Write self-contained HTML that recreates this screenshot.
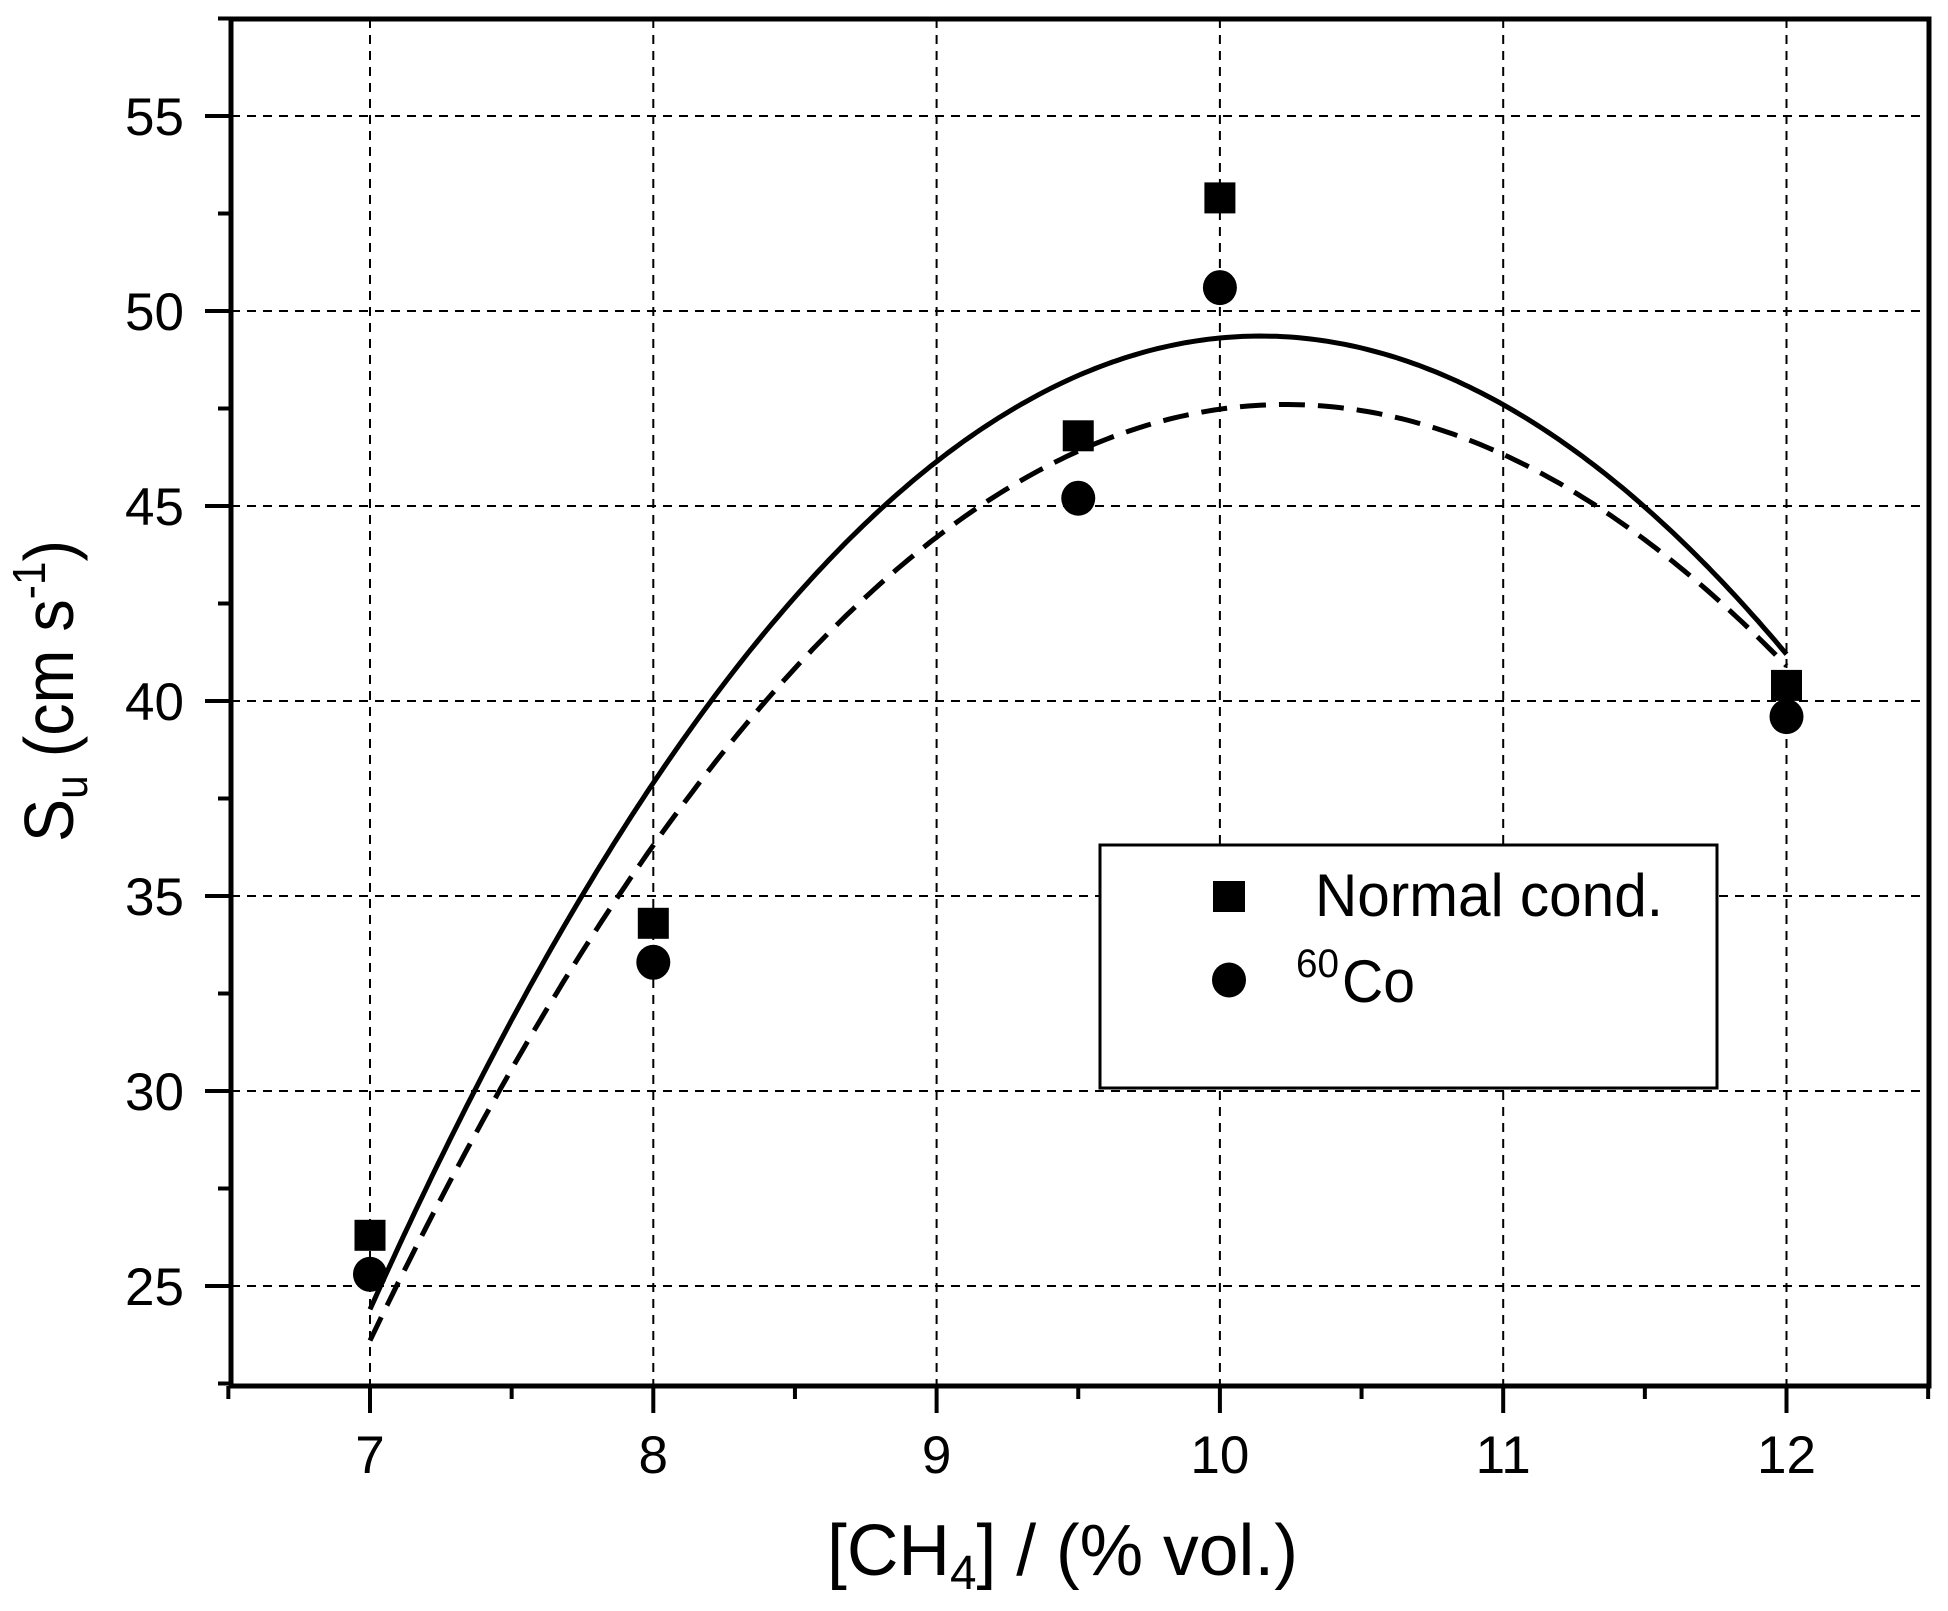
<!DOCTYPE html>
<html><head><meta charset="utf-8"><style>
html,body{margin:0;padding:0;background:#fff;}
svg{display:block;}
text{font-family:"Liberation Sans",Arial,sans-serif;fill:#000;}
</style></head><body>
<svg id="s" width="1948" height="1611" viewBox="0 0 1948 1611" xmlns="http://www.w3.org/2000/svg">
<rect width="1948" height="1611" fill="#fff"/>
<g id="grid" stroke="#000" stroke-width="2" stroke-dasharray="9,7" fill="none"></g>
<g id="curves" fill="none" stroke="#000" stroke-width="5"></g>
<g id="marks"></g>
<rect x="1100" y="845" width="617" height="243" fill="#fff" stroke="#000" stroke-width="3"/>
<rect x="1213" y="881" width="32" height="31" fill="#000"/>
<ellipse cx="1229" cy="980" rx="17" ry="17.5" fill="#000"/>
<text x="1315" y="916" font-size="60" textLength="348" lengthAdjust="spacingAndGlyphs">Normal cond.</text>
<text x="1296" y="977" font-size="40" textLength="43" lengthAdjust="spacingAndGlyphs">60</text>
<text x="1342" y="1002" font-size="60" textLength="73" lengthAdjust="spacingAndGlyphs">Co</text>
<g id="axes" stroke="#000" fill="none"></g>
<g id="labels" font-size="53"></g>
<text x="827" y="1575" font-size="72" textLength="471" lengthAdjust="spacingAndGlyphs">[CH<tspan font-size="48" dy="14">4</tspan><tspan dy="-14">] / (% vol.)</tspan></text>
<text transform="translate(73,842) rotate(-90)" font-size="70" textLength="302" lengthAdjust="spacingAndGlyphs">S<tspan font-size="46" dy="14">u</tspan><tspan dy="-14"> (cm s</tspan><tspan font-size="46" dy="-28">-1</tspan><tspan dy="28">)</tspan></text>
</svg>
<script>
var NS="http://www.w3.org/2000/svg";
function X(v){return 370+(v-7)*283.3;}
function Y(v){return 311-(v-50)*39;}
function el(p,t,a){var e=document.createElementNS(NS,t);for(var k in a)e.setAttribute(k,a[k]);document.getElementById(p).appendChild(e);return e;}
var L=231,R=1929,T=19,B=1386;
for(var x=7;x<=12;x++) el("grid","line",{x1:X(x),x2:X(x),y1:T,y2:B});
for(var y=25;y<=55;y+=5) el("grid","line",{x1:L,x2:R,y1:Y(y),y2:Y(y)});
function lag(P,x){var s=0;for(var i=0;i<P.length;i++){var t=P[i][1];for(var j=0;j<P.length;j++){if(j!=i)t*=(x-P[j][0])/(P[i][0]-P[j][0]);}s+=t;}return s;}
function curve(P,dash){var d="";for(var x=7;x<=12.0001;x+=0.02){d+=(d?"L":"M")+X(x).toFixed(1)+","+Y(lag(P,x)).toFixed(1);}var a={d:d};if(dash)a["stroke-dasharray"]="26,13";el("curves","path",a);}
curve([[7,24.4],[8,37.9],[10.2,49.35],[12,41.2]],false);
curve([[7,23.6],[8,36.3],[10.2,47.6],[12,40.9]],true);
var N=[[7,26.3],[8,34.3],[9.5,46.8],[10,52.9],[12,40.4]];
var C=[[7,25.3],[8,33.3],[9.5,45.2],[10,50.6],[12,39.6]];
N.forEach(function(p){el("marks","rect",{x:X(p[0])-15.5,y:Y(p[1])-15.5,width:31,height:31,fill:"#000"});});
C.forEach(function(p){el("marks","ellipse",{cx:X(p[0]),cy:Y(p[1]),rx:17,ry:17.5,fill:"#000"});});
// axes
el("axes","path",{d:"M"+L+","+T+"L"+R+","+T+"L"+R+","+B+"L"+L+","+B+"Z","stroke-width":5});
for(var x=6.5;x<=12.5001;x+=0.5){var maj=Math.abs(x-Math.round(x))<0.01;el("axes","line",{x1:X(x),x2:X(x),y1:B,y2:B+(maj?27:13),"stroke-width":4});}
for(var y=22.5;y<=57.5;y+=2.5){var maj=(y%5)==0;el("axes","line",{x1:L,x2:L-(maj?26:13),y1:Y(y),y2:Y(y),"stroke-width":4});}
for(var x=7;x<=12;x++){var t=el("labels","text",{x:X(x),y:1473,"text-anchor":"middle"});t.textContent=x;}
for(var y=25;y<=55;y+=5){var t=el("labels","text",{x:184,y:Y(y)+19,"text-anchor":"end"});t.textContent=y;}
</script>
</body></html>
